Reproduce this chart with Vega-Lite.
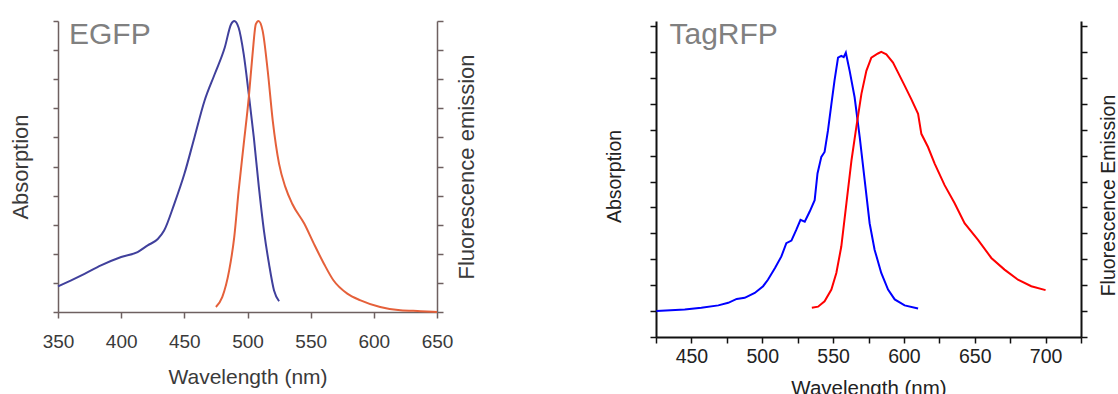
{
  "$schema": "https://vega.github.io/schema/vega-lite/v6.json",
  "padding": {"left": 9, "top": 17, "right": 0, "bottom": 0},
  "background": "white",
  "config": {
    "view": {"stroke": null},
    "font": "Liberation Sans",
    "axis": {"grid": false, "labelFlush": false, "labelOverlap": false, "titleFontWeight": "normal"}
  },
  "datasets": {
    "egfp_abs": [
      {"wl": 350, "v": 0.88}, {"wl": 360, "v": 1.08}, {"wl": 371, "v": 1.31}, {"wl": 384, "v": 1.6},
      {"wl": 400, "v": 1.89}, {"wl": 413, "v": 2.06}, {"wl": 421, "v": 2.29}, {"wl": 429, "v": 2.51},
      {"wl": 434, "v": 2.8}, {"wl": 442, "v": 3.71}, {"wl": 450, "v": 4.74}, {"wl": 458, "v": 6.0},
      {"wl": 466, "v": 7.26}, {"wl": 474, "v": 8.17}, {"wl": 482, "v": 9.09}, {"wl": 487, "v": 9.89},
      {"wl": 489.5, "v": 10}, {"wl": 493, "v": 9.77}, {"wl": 497, "v": 8.86}, {"wl": 501, "v": 7.49},
      {"wl": 505, "v": 6.0}, {"wl": 509, "v": 4.29}, {"wl": 513, "v": 2.8}, {"wl": 517, "v": 1.66},
      {"wl": 521, "v": 0.74}, {"wl": 525, "v": 0.37}
    ],
    "egfp_em": [
      {"wl": 475, "v": 0.17}, {"wl": 480, "v": 0.51}, {"wl": 485.5, "v": 1.43}, {"wl": 489.5, "v": 2.57},
      {"wl": 493, "v": 4.17}, {"wl": 497, "v": 5.77}, {"wl": 501, "v": 7.37}, {"wl": 504, "v": 8.86},
      {"wl": 506.6, "v": 9.89}, {"wl": 508.7, "v": 10}, {"wl": 512, "v": 9.66}, {"wl": 516, "v": 8.29},
      {"wl": 520, "v": 6.57}, {"wl": 525, "v": 5.09}, {"wl": 530, "v": 4.29}, {"wl": 535.5, "v": 3.71},
      {"wl": 545, "v": 3.03}, {"wl": 552.6, "v": 2.34}, {"wl": 560.5, "v": 1.66}, {"wl": 568, "v": 1.09},
      {"wl": 579, "v": 0.63}, {"wl": 589.5, "v": 0.4}, {"wl": 605, "v": 0.17}, {"wl": 621, "v": 0.06},
      {"wl": 637, "v": 0.03}, {"wl": 650, "v": 0}
    ],
    "tag_abs": [
      {"wl": 425.3, "v": 0}, {"wl": 445.3, "v": 0.06}, {"wl": 457, "v": 0.13}, {"wl": 469, "v": 0.22},
      {"wl": 476, "v": 0.32}, {"wl": 482, "v": 0.47}, {"wl": 487.6, "v": 0.51}, {"wl": 494.7, "v": 0.7},
      {"wl": 500.6, "v": 0.96}, {"wl": 504, "v": 1.21}, {"wl": 509, "v": 1.66}, {"wl": 513.5, "v": 2.11},
      {"wl": 517, "v": 2.62}, {"wl": 520.6, "v": 2.72}, {"wl": 524, "v": 3.13}, {"wl": 527, "v": 3.52},
      {"wl": 530, "v": 3.45}, {"wl": 533.5, "v": 3.84}, {"wl": 537, "v": 4.28}, {"wl": 539, "v": 5.31},
      {"wl": 541.7, "v": 5.95}, {"wl": 544, "v": 6.14}, {"wl": 546.4, "v": 6.97}, {"wl": 548.8, "v": 7.99},
      {"wl": 551, "v": 8.89}, {"wl": 553.5, "v": 9.78}, {"wl": 555.8, "v": 9.85}, {"wl": 557.5, "v": 9.8},
      {"wl": 559, "v": 9.97}, {"wl": 561.7, "v": 9.27}, {"wl": 565.2, "v": 8.25}, {"wl": 568.8, "v": 6.71},
      {"wl": 572.3, "v": 5.05}, {"wl": 575.8, "v": 3.39}, {"wl": 579.3, "v": 2.37}, {"wl": 584, "v": 1.47},
      {"wl": 588.8, "v": 0.83}, {"wl": 593.5, "v": 0.45}, {"wl": 600.5, "v": 0.22}, {"wl": 610, "v": 0.1}
    ],
    "tag_em": [
      {"wl": 535, "v": 0.13}, {"wl": 539.4, "v": 0.17}, {"wl": 544, "v": 0.38}, {"wl": 548.8, "v": 0.83},
      {"wl": 552.3, "v": 1.47}, {"wl": 555.8, "v": 2.49}, {"wl": 559.4, "v": 4.16}, {"wl": 563, "v": 5.82},
      {"wl": 566.4, "v": 7.1}, {"wl": 570, "v": 8.38}, {"wl": 573.5, "v": 9.27}, {"wl": 577, "v": 9.78},
      {"wl": 581.7, "v": 9.94}, {"wl": 584, "v": 10}, {"wl": 587.6, "v": 9.91}, {"wl": 592.3, "v": 9.59},
      {"wl": 595.8, "v": 9.21}, {"wl": 600.5, "v": 8.7}, {"wl": 605.2, "v": 8.18}, {"wl": 610, "v": 7.61},
      {"wl": 612.3, "v": 6.84}, {"wl": 617, "v": 6.33}, {"wl": 621.7, "v": 5.69}, {"wl": 628.7, "v": 4.86},
      {"wl": 635.8, "v": 4.16}, {"wl": 642.8, "v": 3.39}, {"wl": 652.3, "v": 2.75}, {"wl": 661.7, "v": 2.05},
      {"wl": 671, "v": 1.6}, {"wl": 680.5, "v": 1.21}, {"wl": 689.9, "v": 0.96}, {"wl": 700, "v": 0.81}
    ]
  },
  "hconcat": [
    {
      "width": 379,
      "height": 291,
      "layer": [
        {
          "data": {"name": "egfp_abs"},
          "mark": {"type": "line", "color": "#40409c", "strokeWidth": 2, "interpolate": "monotone"},
          "encoding": {
            "x": {"field": "wl", "type": "quantitative", "scale": {"domain": [350, 650], "nice": false},
              "axis": {"title": "Wavelength (nm)", "values": [350, 400, 450, 500, 550, 600, 650], "tickSize": 6, "tickWidth": 1.5, "domainWidth": 1.5, "domainColor": "#6e6060", "tickColor": "#6e6060", "labelFontSize": 19, "labelColor": "#3a3a3a", "labelPadding": 14, "titleFontSize": 21, "titleColor": "#3a3a3a", "titlePadding": 15}},
            "y": {"field": "v", "type": "quantitative", "scale": {"domain": [0, 10], "nice": false},
              "axis": {"orient": "left", "title": "Absorption", "values": [0, 1, 2, 3, 4, 5, 6, 7, 8, 9, 10], "labels": false, "tickSize": 5, "tickWidth": 1.5, "domainWidth": 1.5, "domainColor": "#6e6060", "tickColor": "#6e6060", "titleFontSize": 22, "titleColor": "#3a3a3a", "titlePadding": 20}}
          }
        },
        {
          "data": {"name": "egfp_em"},
          "mark": {"type": "line", "color": "#e5603a", "strokeWidth": 2, "interpolate": "monotone"},
          "encoding": {
            "x": {"field": "wl", "type": "quantitative", "scale": {"domain": [350, 650], "nice": false},
              "axis": {"title": "Wavelength (nm)", "values": [350, 400, 450, 500, 550, 600, 650], "tickSize": 6, "tickWidth": 1.5, "domainWidth": 1.5, "domainColor": "#6e6060", "tickColor": "#6e6060", "labelFontSize": 19, "labelColor": "#3a3a3a", "labelPadding": 14, "titleFontSize": 21, "titleColor": "#3a3a3a", "titlePadding": 15}},
            "y": {"field": "v", "type": "quantitative", "scale": {"domain": [0, 10], "nice": false},
              "axis": {"orient": "right", "title": "Fluorescence emission", "titleAngle": 270, "titleBaseline": "top", "values": [0, 1, 2, 3, 4, 5, 6, 7, 8, 9, 10], "labels": false, "tickSize": 6, "tickWidth": 1.5, "domainWidth": 1.5, "domainColor": "#6e6060", "tickColor": "#6e6060", "titleFontSize": 22, "titleColor": "#3a3a3a", "titlePadding": 13}}
          }
        },
        {
          "data": {"values": [{}]},
          "mark": {"type": "text", "font": "Liberation Sans", "fontSize": 30, "color": "#808080", "align": "left", "baseline": "alphabetic"},
          "encoding": {
            "x": {"datum": 358.7, "type": "quantitative",
              "axis": {"title": "Wavelength (nm)", "values": [350, 400, 450, 500, 550, 600, 650], "tickSize": 6, "tickWidth": 1.5, "domainWidth": 1.5, "domainColor": "#6e6060", "tickColor": "#6e6060", "labelFontSize": 19, "labelColor": "#3a3a3a", "labelPadding": 14, "titleFontSize": 21, "titleColor": "#3a3a3a", "titlePadding": 15}},
            "y": {"datum": 9.21, "type": "quantitative", "axis": null},
            "text": {"value": "EGFP"}
          }
        }
      ],
      "resolve": {"axis": {"y": "independent"}}
    },
    {
      "width": 425,
      "height": 316,
      "layer": [
        {
          "data": {"name": "tag_abs"},
          "mark": {"type": "line", "color": "#0000ff", "strokeWidth": 2},
          "encoding": {
            "x": {"field": "wl", "type": "quantitative", "scale": {"domain": [425, 725], "nice": false},
              "axis": {"title": "Wavelength (nm)", "values": [425, 450, 475, 500, 525, 550, 575, 600, 625, 650, 675, 700, 725], "labelExpr": "datum.value % 50 === 0 ? datum.label : ''", "tickSize": 6, "tickWidth": 1.5, "domainWidth": 2, "domainColor": "#111111", "tickColor": "#111111", "labelFontSize": 19.5, "labelColor": "#222222", "labelPadding": 4, "titleFontSize": 20.5, "titleColor": "#222222", "titlePadding": 13}},
            "y": {"field": "v", "type": "quantitative", "scale": {"domain": [-1, 11.193], "nice": false, "zero": false},
              "axis": {"orient": "left", "title": "Absorption", "values": [-1, 0, 1, 2, 3, 4, 5, 6, 7, 8, 9, 10, 11], "labels": false, "tickSize": 6, "tickWidth": 1.5, "domainWidth": 2, "domainColor": "#111111", "tickColor": "#111111", "titleFontSize": 19.5, "titleColor": "#222222", "titlePadding": 25, "titleY": 155}}
          }
        },
        {
          "data": {"name": "tag_em"},
          "mark": {"type": "line", "color": "#ff0000", "strokeWidth": 2},
          "encoding": {
            "x": {"field": "wl", "type": "quantitative", "scale": {"domain": [425, 725], "nice": false},
              "axis": {"title": "Wavelength (nm)", "values": [425, 450, 475, 500, 525, 550, 575, 600, 625, 650, 675, 700, 725], "labelExpr": "datum.value % 50 === 0 ? datum.label : ''", "tickSize": 6, "tickWidth": 1.5, "domainWidth": 2, "domainColor": "#111111", "tickColor": "#111111", "labelFontSize": 19.5, "labelColor": "#222222", "labelPadding": 4, "titleFontSize": 20.5, "titleColor": "#222222", "titlePadding": 13}},
            "y": {"field": "v", "type": "quantitative", "scale": {"domain": [-1, 11.193], "nice": false, "zero": false},
              "axis": {"orient": "right", "title": "Fluorescence Emission", "titleAngle": 270, "titleBaseline": "top", "values": [-1, 0, 1, 2, 3, 4, 5, 6, 7, 8, 9, 10, 11], "labels": false, "tickSize": 6, "tickWidth": 1.5, "domainWidth": 2, "domainColor": "#111111", "tickColor": "#111111", "titleFontSize": 19.5, "titleColor": "#222222", "titlePadding": 12, "titleY": 174}}
          }
        },
        {
          "data": {"values": [{}]},
          "mark": {"type": "text", "font": "Liberation Sans", "fontSize": 30, "color": "#808080", "align": "left", "baseline": "alphabetic"},
          "encoding": {
            "x": {"datum": 434.5, "type": "quantitative",
              "axis": {"title": "Wavelength (nm)", "values": [425, 450, 475, 500, 525, 550, 575, 600, 625, 650, 675, 700, 725], "labelExpr": "datum.value % 50 === 0 ? datum.label : ''", "tickSize": 6, "tickWidth": 1.5, "domainWidth": 2, "domainColor": "#111111", "tickColor": "#111111", "labelFontSize": 19.5, "labelColor": "#222222", "labelPadding": 4, "titleFontSize": 20.5, "titleColor": "#222222", "titlePadding": 13}},
            "y": {"datum": 10.31, "type": "quantitative", "axis": null},
            "text": {"value": "TagRFP"}
          }
        }
      ],
      "resolve": {"axis": {"y": "independent"}}
    }
  ],
  "spacing": 219,
  "bounds": "flush"
}
